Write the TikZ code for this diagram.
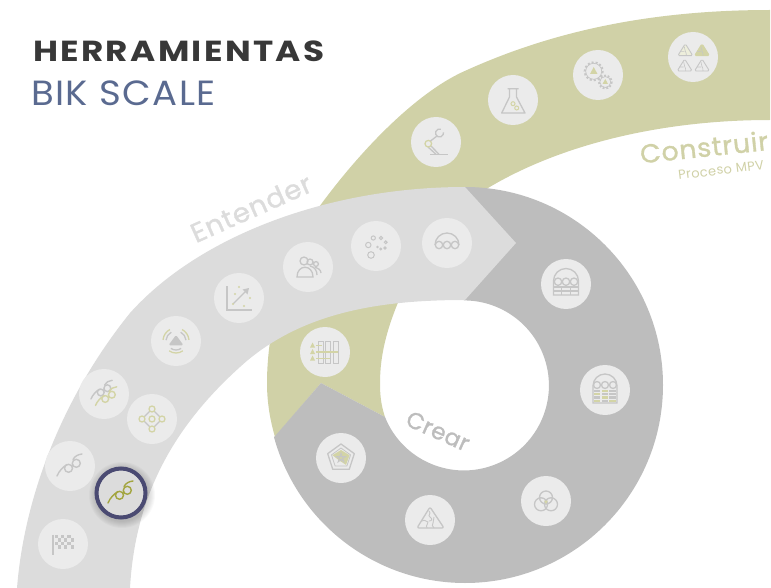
\documentclass[tikz,border=0pt]{standalone}
\usepackage{fontspec}
\setmainfont{Poppins}
\newfontfamily\titlefont[LetterSpace=8,FakeStretch=1.18]{Poppins Bold}
\newfontfamily\subfont[LetterSpace=4,FakeStretch=1.06]{Poppins}
\newfontfamily\bandfont[FakeBold=1.2,LetterSpace=3,FakeStretch=1.03]{Poppins}
\newfontfamily\crearfont[FakeBold=1.2,LetterSpace=2]{Poppins}
\newfontfamily\notefont[LetterSpace=3]{Poppins}
\definecolor{oliveband}{HTML}{D0D1A7}
\definecolor{crearband}{HTML}{BDBDBD}
\definecolor{entenderband}{HTML}{DCDCDC}
\definecolor{badgefill}{HTML}{EBEBEB}
\definecolor{iconline}{HTML}{C6C6C6}
\definecolor{iconolive}{HTML}{D3D4A6}
\definecolor{picked}{HTML}{A3A540}
\definecolor{pickring}{HTML}{4A4A72}
\definecolor{subtitlecol}{HTML}{5A6A90}
\tikzset{
  toolbadge/.style={circle,fill=badgefill,minimum size=50pt,inner sep=0pt},
  pickbadge/.style={circle,draw=pickring,line width=4pt,fill=entenderband,minimum size=49pt,inner sep=0pt},
  gline/.style={draw=iconline,line width=1.3pt},
  oline/.style={draw=iconolive,line width=1.3pt},
  curlicon/.pic={
    \draw[draw=#1,line width=1.4pt,line cap=round] (-13,10) .. controls (-11,5) and (-7,1) .. (-3,-1.5) (3,-6.5) .. controls (5,-10) and (8,-11.5) .. (12,-12);
    \draw[draw=#1,line width=1.4pt] (-1.5,2.3) circle[radius=4] (6.3,-2.7) circle[radius=4];
  },
  triicon/.pic={
    \draw[#1,line width=.9pt,line join=round,rounded corners=1.5pt] (0,-6) -- (7.5,6) -- (-7.5,6) -- cycle;
    \draw[iconline,line width=.6pt] (-1,-3) .. controls (1,-1) and (-2,0) .. (0,1.5) .. controls (2,3) and (0,4) .. (1,6) (-5,2) -- (-1,2);
  }
}
\begin{document}
\begin{tikzpicture}[x=1pt,y=-1pt]
  \useasboundingbox (0,0) rectangle (771,588);
  % bands
  \fill[oliveband] (770,10) .. controls (660,10) and (560,28) .. (467,70)
    .. controls (420,90) and (365,145) .. (322,203)
    .. controls (290,245) and (267,320) .. (267,383)
    .. controls (267,402) and (270,420) .. (275,437)
    -- (321,383) -- (385,417)
    .. controls (381,405) and (380,395) .. (380,383)
    .. controls (380,355) and (387,330) .. (397,305)
    .. controls (413,265) and (445,220) .. (488,188)
    .. controls (560,145) and (660,120) .. (770,120) -- cycle;
  \coordinate (crearc) at (465,385);
  \fill[crearband] (465,187) arc[start angle=-90,end angle=164.7,radius=198]
    -- (321,383) -- (385,417) arc[start angle=158.2,end angle=-90,radius=85] -- cycle;
  \fill[entenderband] (17,588) .. controls (24,500) and (60,400) .. (130,313)
    .. controls (200,235) and (330,187) .. (465,187)
    -- (516,243) -- (465,300)
    .. controls (380,300) and (300,312) .. (240,367)
    .. controls (170,430) and (135,500) .. (130,588) -- cycle;

  % titles
  \node[anchor=base west,inner sep=0pt,text=black!78] (title) at (33,62) {\titlefont\fontsize{29}{29}\selectfont HERRAMIENTAS};
  \node[anchor=base west,inner sep=0pt,text=subtitlecol] (subtitle) at (31,106) {\subfont\fontsize{35}{35}\selectfont BIK SCALE};
  \node[inner sep=0pt,rotate=24,text=entenderband] (entender) at (251,208) {\bandfont\fontsize{27}{27}\selectfont Entender};
  \node[inner sep=0pt,rotate=6,text=oliveband] (construir) at (704,147) {\bandfont\fontsize{26}{26}\selectfont Construir};
  \node[inner sep=0pt,rotate=7,text=oliveband] (proceso) at (721,170) {\notefont\fontsize{13}{13}\selectfont Proceso MPV};
  \node[inner sep=0pt,rotate=-24,text=crearband] (crear) at (438,431) {\crearfont\fontsize{23}{23}\selectfont Crear};

  % badges
  \node[toolbadge] (tflag)   at (63,544) {};
  \node[toolbadge] (tcurl)   at (70,466) {};
  \node[toolbadge] (tcurls)  at (104,394) {};
  \node[toolbadge] (tdots)   at (152,419) {};
  \node[toolbadge] (twave)   at (176,341) {};
  \node[toolbadge] (tchart)  at (239,298) {};
  \node[toolbadge] (tpeople) at (308,267) {};
  \node[toolbadge] (tbubble) at (376,246) {};
  \node[toolbadge] (tarch)   at (447,243) {};
  \node[toolbadge] (tgrid)   at (566,284) {};
  \node[toolbadge] (tgridc)  at (605,390) {};
  \node[toolbadge] (tvenn)   at (546,501) {};
  \node[toolbadge] (tpuzzle) at (430,520) {};
  \node[toolbadge] (tpenta)  at (341,458) {};
  \node[toolbadge] (tmatrix) at (325,352) {};
  \node[toolbadge] (tarm)    at (436,142) {};
  \node[toolbadge] (tflask)  at (513,100) {};
  \node[toolbadge] (tgears)  at (598,75) {};
  \node[toolbadge] (ttris)   at (693,57) {};
  % selected one with its soft shadow
  \foreach \r in {27,28,...,33} \fill[black,opacity=.022] (122,495) circle[radius=\r];
  \node[pickbadge] (tpick) at (121,493) {};

  % icons
  \pic at (tflag) {code={
    \draw[gline] (-10,-9.5) -- (-10,11);
    \foreach \i in {0,...,5} \foreach \j in {0,...,3} {
      \pgfmathparse{int(mod(\i+\j,2))}
      \ifnum\pgfmathresult=0 \fill[iconline] (-8.5+3.2*\i,-9+3.4*\j) rectangle ++(3.2,3.4); \fi}
  }};
  \pic at (tcurl) {curlicon=iconline};
  \pic[scale=.85] at ([shift={(-2,-3.5)}]tcurls) {curlicon=iconline};
  \pic[scale=.85] at ([shift={(2.5,3)}]tcurls) {curlicon=iconolive};
  \pic at (tpick) {curlicon=picked};
  \pic at (tdots) {code={
    \draw[gline,rounded corners=2pt] (0,-10) -- (10,0) -- (0,10) -- (-10,0) -- cycle;
    \foreach \dx/\dy in {0/-10,10/0,0/10,-10/0,0/0}
      \draw[oline,fill=badgefill] (\dx,\dy) circle[radius=3];
  }};
  \pic at (twave) {code={
    \fill[iconline,rounded corners=1.5pt] (0,-6) -- (7.5,4.3) -- (-7.5,4.3) -- cycle;
    \foreach \r/\s in {10/gline,13/oline} {
      \draw[\s] (-118:\r) arc[start angle=-118,end angle=-175,radius=\r];
      \draw[\s] (-62:\r) arc[start angle=-62,end angle=-5,radius=\r];
    }
    \foreach \r/\s in {9/gline,12/oline} \draw[\s] (55:\r) arc[start angle=55,end angle=125,radius=\r];
  }};
  \pic at (tchart) {code={
    \draw[gline] (-12,-12) -- (-12,12) -- (13,12);
    \draw[gline] (-6,6) -- (7,-7);
    \fill[iconline] (10,-10) -- (8.5,-3.5) -- (3.5,-8.5) -- cycle;
    \foreach \dx/\dy in {0/-11,-4/-4,11/0,5/8,-6/6} \fill[iconolive] (\dx,\dy) circle[radius=1.2];
  }};
  \pic at (tpeople) {code={
    \draw[gline] (-4,-6) circle[radius=4] (2,-5) circle[radius=3] (8,-3) circle[radius=2.4];
    \draw[gline] (-11,10) .. controls (-11,-3) and (5,-3) .. (5,10) -- cycle;
    \draw[gline] (2,-1) .. controls (7,0) and (9,4) .. (9,8);
    \draw[gline] (7,0) .. controls (10,1) and (13,3) .. (13,6);
  }};
  \pic at (tbubble) {code={
    \foreach \dx/\dy/\r in {-5/9/3.3,-7.7/-1/2.7,-2.7/-8/2.1,5/-8/1.7,9.7/-3.7/1.4,9/2/1.1,4.7/3/.9,1.5/1/.6}
      \draw[iconline,line width=1pt] (\dx,\dy) circle[radius=\r];
  }};
  \pic at (tarch) {code={
    \draw[gline] (-12,2) arc[start angle=180,end angle=360,radius=12];
    \foreach \cx in {-8,0,8} \draw[gline,fill=badgefill] (\cx,2) circle[radius=3.7];
  }};
  \pic at (tgrid) {code={
    \draw[gline] (-12.5,11) -- (-12.5,-3) arc[start angle=180,end angle=360,radius=12.5] -- (12.5,11) -- cycle;
    \draw[gline] (-12.5,3) -- (12.5,3) (-12.5,7) -- (12.5,7) (-4.2,3) -- (-4.2,11) (4.2,3) -- (4.2,11);
    \foreach \cx in {-8,0,8} \draw[gline,fill=badgefill] (\cx,-2.3) circle[radius=3.7];
  }};
  \pic at (tgridc) {code={
    \draw[gline] (-12,13) -- (-12,-4) arc[start angle=180,end angle=360,radius=12] -- (12,13) -- cycle;
    \foreach \cx in {-8,0,8} \draw[gline,fill=badgefill] (\cx,-5) circle[radius=3.5];
    \foreach \i in {0,1,2} \foreach \j in {0,1,2,3} \fill[iconline] (-11+7.6*\i,-.5+3.4*\j) rectangle ++(6.4,2.4);
    \foreach \i/\j in {1/0,0/1,1/2,2/3,0/3} \fill[iconolive] (-11+7.6*\i,-.5+3.4*\j) rectangle ++(6.4,2.4);
  }};
  \pic at (tvenn) {code={
    \draw[gline] (0,-3.5) circle[radius=6.5] (-5,3.3) circle[radius=6.5] (5,3.3) circle[radius=6.5];
    \fill[iconolive] (-2,-.5) -- (2,-.5) -- (0,3) -- cycle;
  }};
  \pic at (tpuzzle) {code={
    \draw[gline,line join=round,rounded corners=2pt] (0,-13) -- (14,8) -- (-13,8) -- cycle;
    \draw[iconline,line width=.9pt] (-1,-9) .. controls (2,-6) and (-3,-5) .. (0,-3) .. controls (3,-1) and (2,1) .. (-1,1) (4,-3) .. controls (2,-1) and (5,1) .. (3,3) .. controls (1,5) and (3,6) .. (4,8) (-8,1) .. controls (-5,-1) and (-4,2) .. (-2,2) .. controls (-1,4) and (-5,5) .. (-3,8);
  }};
  \pic at (tpenta) {code={
    \draw[gline,line join=round] (-90:14) -- (-18:14) -- (54:14) -- (126:14) -- (198:14) -- cycle;
    \draw[iconline,line width=.8pt,line join=round] (-90:10) -- (-18:10) -- (54:10) -- (126:10) -- (198:10) -- cycle;
    \fill[iconolive] (-90:8) -- (-18:9) -- (54:8.5) -- (126:3) -- (198:9) -- cycle;
    \draw[iconline,line width=.8pt] (-90:5) -- (54:5) -- (198:5) -- (-18:5) -- (126:5) -- cycle;
  }};
  \pic at (tmatrix) {code={
    \foreach \dx in {-6.7,.7,8} \draw[iconline,line width=1pt] (\dx,-10.5) rectangle ++(5,21.5);
    \foreach \dy in {-6.5,0,6.5} \fill[iconolive] (-15,\dy+2) -- (-12.5,\dy-3) -- (-10,\dy+2) -- cycle;
    \draw[oline] (-9,-6.5) -- (-3,-6.5) (-9,0) -- (13,0) (-9,6.5) -- (5,6.5);
  }};
  \pic at (tarm) {code={
    \draw[gline] (-6,12.3) -- (12,12.3);
    \draw[gline] (-5,4) -- (3,12.3) (-8,5) -- (0,12.3);
    \draw[oline] (-7.7,1.7) circle[radius=3.3];
    \draw[gline] (-5.5,-1) -- (1,-6);
    \draw[gline] (3.5,-9) ++(-70:4) arc[start angle=-70,end angle=-370,radius=4];
  }};
  \pic at (tflask) {code={
    \draw[gline,line join=round] (-5.5,-11.3) -- (5.5,-11.3) (-3.5,-11.3) -- (-3.5,-3) -- (-11.3,13) -- (12,13) -- (3.5,-3) -- (3.5,-11.3);
    \draw[oline,line width=1pt] (0,3.7) circle[radius=2] (3.7,8) circle[radius=2];
  }};
  \pic at (tgears) {code={
    \draw[iconline,line width=.7pt] (-4.3,-3.7) circle[radius=8];
    \draw[iconline,line width=2pt,dash pattern=on 2pt off 2pt] (-4.3,-3.7) circle[radius=9];
    \draw[iconline,line width=.7pt] (7.3,7) circle[radius=5.5];
    \draw[iconline,line width=1.8pt,dash pattern=on 1.8pt off 1.8pt] (7.3,7) circle[radius=6.4];
    \fill[iconolive] (-8,-1) -- (-4.3,-8) -- (-.5,-1) -- cycle;
    \fill[iconolive] (4.5,9) -- (7.3,4) -- (10,9) -- cycle;
  }};
  \pic at ([shift={(-7.7,-7.3)}]ttris) {triicon={draw=iconline,fill=iconolive!40}};
  \pic at ([shift={(9,-7.3)}]ttris) {triicon={draw=iconolive,fill=iconolive}};
  \pic at ([shift={(-8.3,8)}]ttris) {triicon={draw=iconline}};
  \pic at ([shift={(9,8)}]ttris) {triicon={draw=iconline}};
\end{tikzpicture}
\end{document}
